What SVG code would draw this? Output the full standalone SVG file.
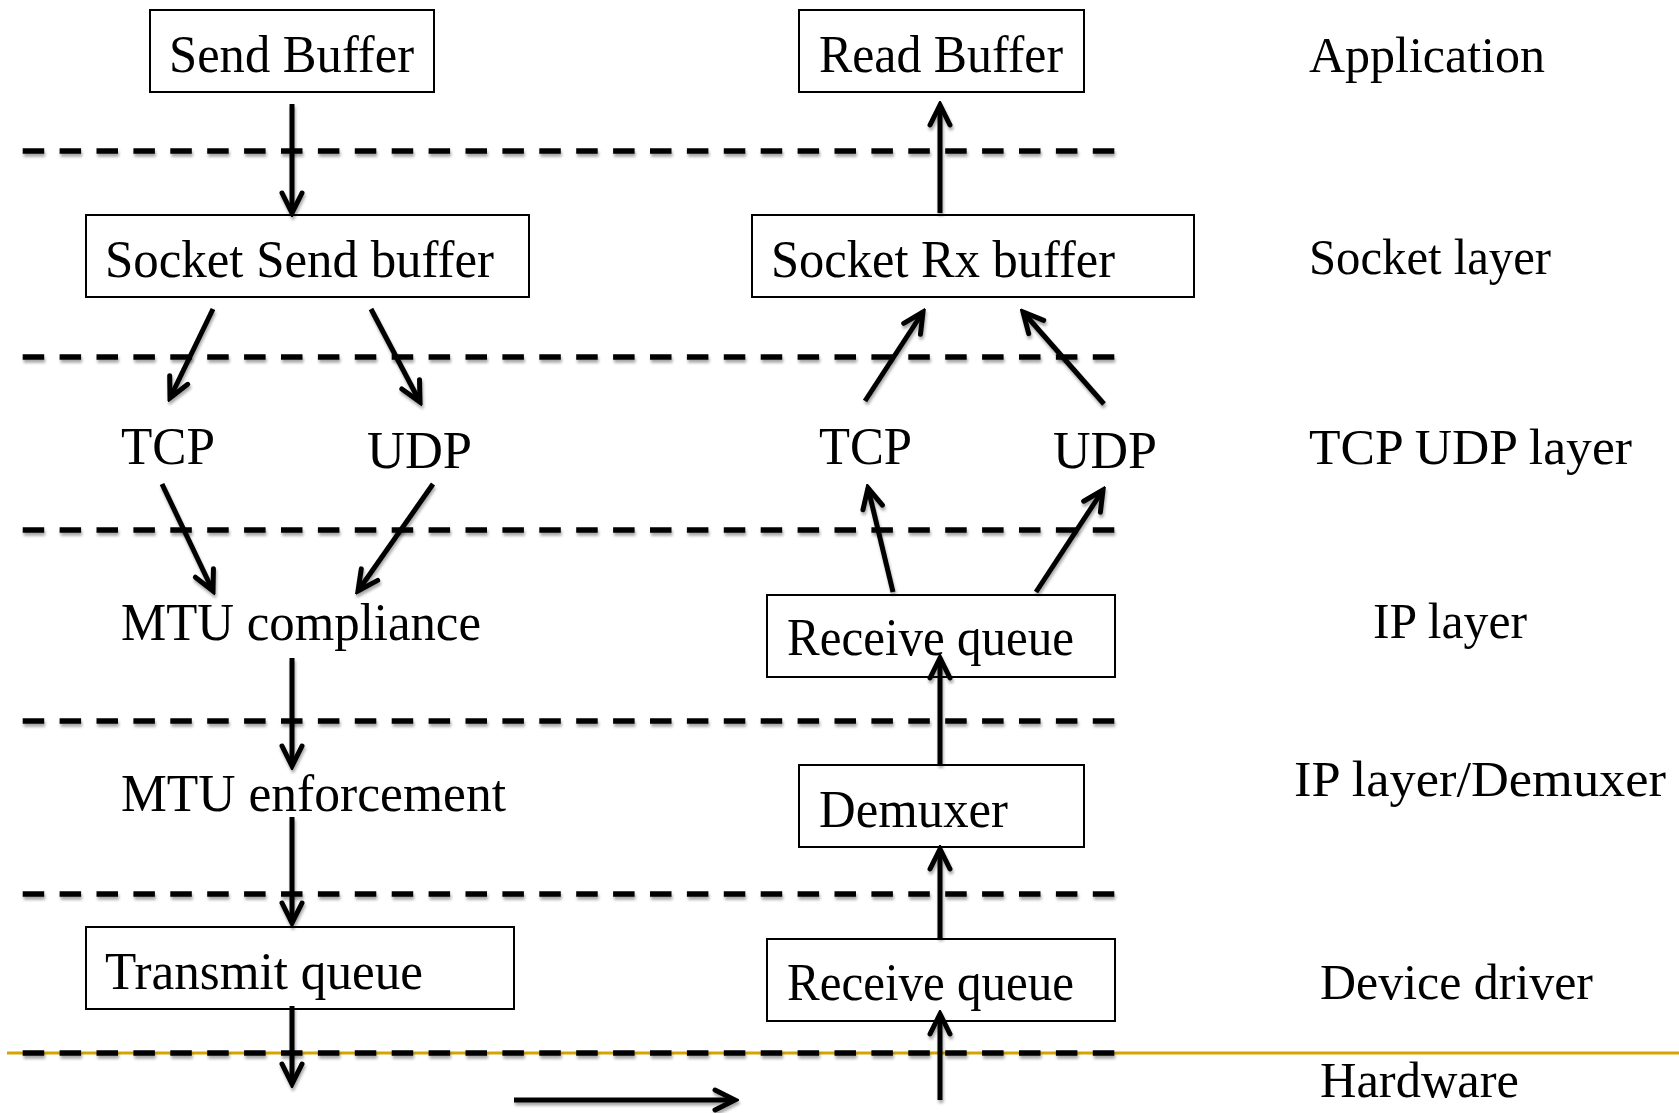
<svg xmlns="http://www.w3.org/2000/svg" width="1679" height="1113" viewBox="0 0 1679 1113">
  <defs>
    <style>
      .box { fill: #ffffff; stroke: #000000; stroke-width: 2; }
      .lbl { font-family: "Liberation Serif", "Times New Roman", serif; font-size: 52px; fill: #000000; }
      .side { font-family: "Liberation Serif", "Times New Roman", serif; font-size: 50px; fill: #000000; }
      .dash { stroke: #000000; stroke-width: 5.5; stroke-dasharray: 21.5 15.4; fill: none; }
      .conn { stroke: #000000; stroke-width: 5; fill: none; marker-end: url(#ah); }
    </style>
    <marker id="ah" viewBox="-26 -14 30 28" markerWidth="30" markerHeight="28" refX="0" refY="0" orient="auto" markerUnits="userSpaceOnUse">
      <path d="M-20,-10 L0,0 L-20,10" fill="none" stroke="#000000" stroke-width="5" stroke-linejoin="miter" stroke-linecap="round"/>
    </marker>
    <filter id="sh" x="-5%" y="-100%" width="110%" height="300%">
      <feGaussianBlur in="SourceAlpha" stdDeviation="1.5"/>
      <feOffset dx="1" dy="3" result="b"/>
      <feComponentTransfer><feFuncA type="linear" slope="0.35"/></feComponentTransfer>
      <feMerge><feMergeNode/><feMergeNode in="SourceGraphic"/></feMerge>
    </filter>
  </defs>
  <rect x="0" y="0" width="1679" height="1113" fill="#ffffff"/>

  <g id="layers">
    <line x1="7" y1="1053" x2="1679" y2="1053" stroke="#D6A300" stroke-width="3"/>
    <g filter="url(#sh)">
      <line class="dash" x1="22.7" y1="151" x2="1115" y2="151"/>
      <line class="dash" x1="22.7" y1="357" x2="1115" y2="357"/>
      <line class="dash" x1="22.7" y1="530" x2="1115" y2="530"/>
      <line class="dash" x1="22.7" y1="721" x2="1115" y2="721"/>
      <line class="dash" x1="22.7" y1="894" x2="1115" y2="894"/>
      <line class="dash" x1="22.7" y1="1053" x2="1115" y2="1053"/>
    </g>
  </g>

  <g id="node-send-buffer"><rect class="box" x="150" y="10" width="284" height="82"/><text class="lbl" x="169" y="72" textLength="245" lengthAdjust="spacingAndGlyphs">Send Buffer</text></g>
  <g id="node-read-buffer"><rect class="box" x="799" y="10" width="285" height="82"/><text class="lbl" x="819" y="72" textLength="244" lengthAdjust="spacingAndGlyphs">Read Buffer</text></g>
  <g id="node-socket-send"><rect class="box" x="86" y="215" width="443" height="82"/><text class="lbl" x="105" y="277" textLength="389" lengthAdjust="spacingAndGlyphs">Socket Send buffer</text></g>
  <g id="node-socket-rx"><rect class="box" x="752" y="215" width="442" height="82"/><text class="lbl" x="771" y="277" textLength="344" lengthAdjust="spacingAndGlyphs">Socket Rx buffer</text></g>
  <g id="node-tcp-tx"><text class="lbl" x="121" y="464" textLength="94" lengthAdjust="spacingAndGlyphs">TCP</text></g>
  <g id="node-udp-tx"><text class="lbl" x="367" y="468" textLength="105" lengthAdjust="spacingAndGlyphs">UDP</text></g>
  <g id="node-tcp-rx"><text class="lbl" x="819" y="464" textLength="93" lengthAdjust="spacingAndGlyphs">TCP</text></g>
  <g id="node-udp-rx"><text class="lbl" x="1053" y="468" textLength="104" lengthAdjust="spacingAndGlyphs">UDP</text></g>
  <g id="node-mtu-compliance"><text class="lbl" x="121" y="640" textLength="360" lengthAdjust="spacingAndGlyphs">MTU compliance</text></g>
  <g id="node-mtu-enforcement"><text class="lbl" x="121" y="811" textLength="385" lengthAdjust="spacingAndGlyphs">MTU enforcement</text></g>
  <g id="node-receive-queue-ip"><rect class="box" x="767" y="595" width="348" height="82"/><text class="lbl" x="787" y="655" textLength="287" lengthAdjust="spacingAndGlyphs">Receive queue</text></g>
  <g id="node-demuxer"><rect class="box" x="799" y="765" width="285" height="82"/><text class="lbl" x="819" y="827" textLength="189" lengthAdjust="spacingAndGlyphs">Demuxer</text></g>
  <g id="node-transmit-queue"><rect class="box" x="86" y="927" width="428" height="82"/><text class="lbl" x="105" y="989" textLength="318" lengthAdjust="spacingAndGlyphs">Transmit queue</text></g>
  <g id="node-receive-queue-dev"><rect class="box" x="767" y="939" width="348" height="82"/><text class="lbl" x="787" y="1000" textLength="287" lengthAdjust="spacingAndGlyphs">Receive queue</text></g>

  <g id="layer-labels">
    <text class="side" x="1309" y="72" textLength="236" lengthAdjust="spacingAndGlyphs">Application</text>
    <text class="side" x="1309" y="274" textLength="242" lengthAdjust="spacingAndGlyphs">Socket layer</text>
    <text class="side" x="1309" y="464" textLength="323" lengthAdjust="spacingAndGlyphs">TCP UDP layer</text>
    <text class="side" x="1373" y="638" textLength="154" lengthAdjust="spacingAndGlyphs">IP layer</text>
    <text class="side" x="1294" y="796" textLength="372" lengthAdjust="spacingAndGlyphs">IP layer/Demuxer</text>
    <text class="side" x="1320" y="999" textLength="273" lengthAdjust="spacingAndGlyphs">Device driver</text>
    <text class="side" x="1320" y="1097" textLength="199" lengthAdjust="spacingAndGlyphs">Hardware</text>
  </g>

  <g id="connectors" filter="url(#sh)">
    <line class="conn" x1="292" y1="104" x2="292" y2="213"/>
    <line class="conn" x1="213" y1="309" x2="170" y2="398"/>
    <line class="conn" x1="371" y1="309" x2="420" y2="402"/>
    <line class="conn" x1="162" y1="484" x2="213" y2="591"/>
    <line class="conn" x1="433" y1="484" x2="358" y2="591"/>
    <line class="conn" x1="292" y1="658" x2="292" y2="766"/>
    <line class="conn" x1="292" y1="817" x2="292" y2="923"/>
    <line class="conn" x1="292" y1="1006" x2="292" y2="1084"/>
    <line class="conn" x1="514" y1="1100" x2="735" y2="1100"/>
    <line class="conn" x1="940" y1="213" x2="940" y2="105"/>
    <line class="conn" x1="865" y1="401" x2="923" y2="312"/>
    <line class="conn" x1="1104" y1="404" x2="1023" y2="312"/>
    <line class="conn" x1="893" y1="592" x2="868" y2="488"/>
    <line class="conn" x1="1036" y1="592" x2="1103" y2="490"/>
    <line class="conn" x1="940" y1="765" x2="940" y2="658"/>
    <line class="conn" x1="940" y1="938" x2="940" y2="849"/>
    <line class="conn" x1="940" y1="1100" x2="940" y2="1014"/>
  </g>
</svg>
